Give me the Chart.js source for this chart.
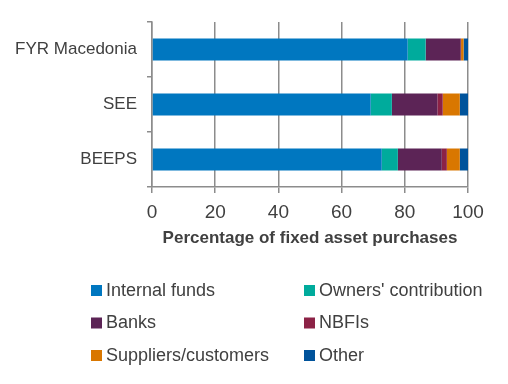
<!DOCTYPE html>
<html>
<head>
<meta charset="utf-8">
<script src="https://cdn.jsdelivr.net/npm/chart.js@4/dist/chart.umd.min.js"></script>
<style>
  html, body { margin: 0; padding: 0; background: #fff; }
  #wrap { width: 508px; height: 384px; position: relative; }
</style>
</head>
<body>
<div id="wrap"><canvas id="chart" width="508" height="384"></canvas></div>
<script>
const categories = ['FYR Macedonia', 'SEE', 'BEEPS'];
const seriesNames = ['Internal funds', "Owners' contribution", 'Banks', 'NBFIs', 'Suppliers/customers', 'Other'];
const internalFunds = [80.9, 69.2, 72.7];
const ownersContribution = [5.7, 6.7, 5.1];
const banks = [11.1, 14.4, 13.9];
const nbfis = [0.1, 1.7, 1.6];
const suppliers = [0.8, 5.4, 4.1];
const other = [1.4, 2.6, 2.6];
const xTicks = [0, 20, 40, 60, 80, 100];

const colors = ['#0077c0', '#00ab9c', '#5c2456', '#8c2246', '#d97700', '#00539b'];
const textColor = '#404040';
const axisColor = '#8c8c8c';
const font = 'Liberation Sans';

const values = [internalFunds, ownersContribution, banks, nbfis, suppliers, other];

// two-column legend under the axis title
const gridLegend = {
  id: 'gridLegend',
  afterDraw(chart) {
    const ctx = chart.ctx;
    const cols = [91, 304];
    const rows = [290, 322.5, 355];
    ctx.save();
    ctx.font = '18px "' + font + '"';
    ctx.textBaseline = 'middle';
    ctx.textAlign = 'left';
    chart.data.datasets.forEach((ds, i) => {
      const x = cols[i % 2];
      const y = rows[Math.floor(i / 2)];
      ctx.fillStyle = ds.backgroundColor;
      ctx.fillRect(x, y - 5, 11, 11);
      ctx.fillStyle = textColor;
      ctx.fillText(ds.label, x + 15, y + 1);
    });
    ctx.restore();
  }
};

new Chart(document.getElementById('chart'), {
  type: 'bar',
  data: {
    labels: categories,
    datasets: seriesNames.map((name, i) => ({
      label: name,
      data: values[i],
      backgroundColor: colors[i],
      borderWidth: 0,
      barPercentage: 0.4,
      categoryPercentage: 1
    }))
  },
  options: {
    indexAxis: 'y',
    responsive: false,
    animation: false,
    layout: { padding: { left: 0, right: 40, top: 22, bottom: 133 } },
    plugins: {
      legend: { display: false },
      tooltip: { enabled: false }
    },
    scales: {
      x: {
        stacked: true,
        min: 0,
        max: 100,
        afterBuildTicks: (scale) => { scale.ticks = xTicks.map(v => ({ value: v })); },
        afterFit: (scale) => { scale.height = 64; },
        grid: { color: axisColor, lineWidth: 1.5, tickLength: 6 },
        border: { color: axisColor, width: 1.5 },
        ticks: { color: textColor, font: { family: font, size: 19 }, padding: 8, maxRotation: 0 },
        title: {
          display: true,
          text: 'Percentage of fixed asset purchases',
          color: textColor,
          font: { family: font, size: 17, weight: 'bold' },
          padding: { top: 2, bottom: 2 }
        }
      },
      y: {
        stacked: true,
        afterFit: (scale) => { scale.width = 152; },
        grid: { drawOnChartArea: false, color: axisColor, lineWidth: 1.5, tickLength: 5, offset: true },
        border: { color: axisColor, width: 1.5 },
        ticks: { color: textColor, font: { family: font, size: 17 }, padding: 10 }
      }
    }
  },
  plugins: [gridLegend]
});
</script>
</body>
</html>
